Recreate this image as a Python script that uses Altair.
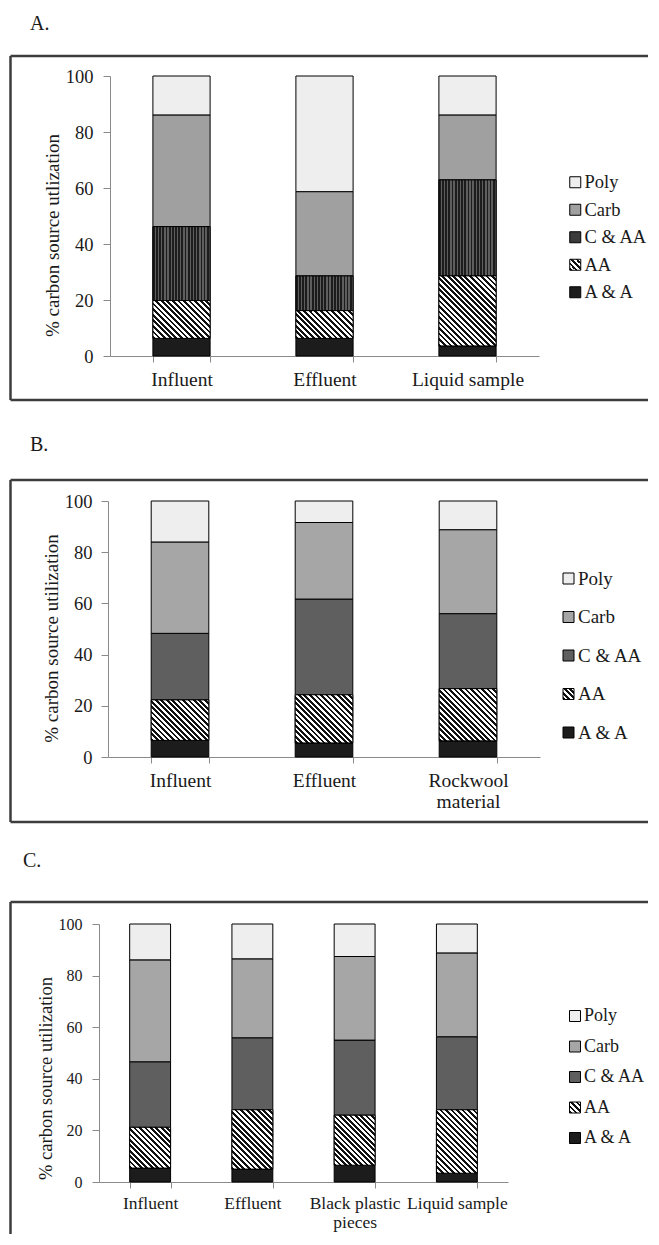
import altair as alt
import pandas as pd

FONT = "Liberation Serif"
TXT = "#1a1a1a"
GRAY = "#8a8a8a"
FRAME = "#3d3d3d"

SERIES = ["A & A", "AA", "C & AA", "Carb", "Poly"]          # stacking order, bottom -> top
LEGEND_ORDER = ["Poly", "Carb", "C & AA", "AA", "A & A"]
Y_TICKS = [0, 20, 40, 60, 80, 100]

# Panel A (% of carbon source utilization per guild)
A_SAMPLES = ["Influent", "Effluent", "Liquid sample"]
A_AAA = [6.3, 6.3, 3.6]
A_AA = [13.5, 9.9, 25.0]
A_CAA = [26.4, 12.4, 34.3]
A_CARB = [39.9, 30.1, 23.2]
A_POLY = [13.9, 41.3, 13.9]

# Panel B
B_SAMPLES = ["Influent", "Effluent", "Rockwool\nmaterial"]
B_AAA = [6.5, 5.5, 6.3]
B_AA = [15.8, 18.8, 20.4]
B_CAA = [26.0, 37.4, 29.3]
B_CARB = [35.7, 29.9, 32.8]
B_POLY = [16.0, 8.4, 11.2]

# Panel C
C_SAMPLES = ["Influent", "Effluent", "Black plastic\npieces", "Liquid sample"]
C_AAA = [5.4, 5.0, 6.5, 3.4]
C_AA = [15.8, 23.0, 19.4, 24.6]
C_CAA = [25.4, 27.9, 29.1, 28.3]
C_CARB = [39.5, 30.6, 32.4, 32.5]
C_POLY = [13.9, 13.5, 12.6, 11.2]


def stripe_stops(n, frac, c1, c2):
    stops = []
    for i in range(n):
        a, b, c = i / n, (i + frac) / n, (i + 1) / n
        stops += [(a, c1), (b, c1), (b, c2), (c, c2)]
    return stops


def hatch_geom(w, h):
    r = h / w
    k = (1 + r) / (1 + r * r)
    return dict(x1=0, y1=1, x2=round(k, 5), y2=round(1 - r * k, 5))


def to_gradient(stops, geom):
    return alt.LinearGradient(
        gradient="linear",
        stops=[alt.GradientStop(color=c, offset=round(o, 5)) for o, c in stops],
        **geom,
    )


def gradient_expr(stops, geom):
    s = ", ".join("{offset: %.5f, color: '%s'}" % (o, c) for o, c in stops)
    return "{gradient: 'linear', x1: %g, y1: %g, x2: %g, y2: %g, stops: [%s]}" % (
        geom["x1"], geom["y1"], geom["x2"], geom["y2"], s)


dummy = pd.DataFrame({"k": [0]})


def hrule(y, x1, x2, color=FRAME, sw=2.5):
    return alt.Chart(dummy).mark_rule(color=color, strokeWidth=sw).encode(
        x=alt.value(x1), x2=alt.value(x2), y=alt.value(y))


def vrule(x, y1, y2, color=FRAME, sw=2.5):
    return alt.Chart(dummy).mark_rule(color=color, strokeWidth=sw).encode(
        x=alt.value(x), y=alt.value(y1), y2=alt.value(y2))


X0 = 99  # page x of every plot origin


def build_panel(cfg):
    samples = cfg["samples"]
    vals = cfg["values"]
    rows = []
    for i, s in enumerate(samples):
        base = 0.0
        for ser in SERIES:
            v = vals[ser][i]
            rows.append(dict(sample=s, series=ser, y0=round(base, 3), y1=round(base + v, 3)))
            base += v
    df = pd.DataFrame(rows)

    W, H, Y0 = cfg["width"], cfg["height"], cfg["top"]
    r0, r1 = cfg["range"]
    step = (r1 - r0) / len(samples)
    bw = 0.4 * step

    x = alt.X(
        "sample:N",
        scale=alt.Scale(domain=samples, range=[r0, r1], paddingInner=0.6, paddingOuter=0.3),
        axis=alt.Axis(
            title=None, labelAngle=0, labelFont=FONT, labelFontSize=cfg["xfs"],
            labelColor=TXT, labelPadding=cfg["xpad"], tickSize=6, tickColor=GRAY,
            domainColor=GRAY, tickBand="extent", labelLineHeight=cfg["xlh"],
            labelExpr="split(datum.label, '\\n')",
        ),
    )
    y = alt.Y(
        "y0:Q",
        scale=alt.Scale(domain=[0, 100], nice=False),
        axis=alt.Axis(
            values=Y_TICKS, title=cfg["ytitle"], grid=False, offset=cfg["yoff"],
            labelFont=FONT, labelFontSize=cfg["yfs"], labelColor=TXT,
            labelPadding=cfg["ypad"], tickSize=7, tickColor=GRAY, domainColor=GRAY,
            titleFont=FONT, titleFontSize=cfg["tfs"], titleFontWeight="normal",
            titleColor=TXT, titlePadding=3, titleY=cfg["titleY"],
        ),
    )
    y2 = alt.Y2("y1:Q")

    leg_stops = stripe_stops(4, 0.5, "#111111", "#ffffff")
    leg_grad = alt.ExprRef(expr=gradient_expr(leg_stops, hatch_geom(11, 11)))
    colors = [cfg["c_poly"], cfg["c_carb"], cfg["c_caa"], leg_grad, cfg["c_aaa"]]

    base = alt.Chart(df).mark_bar(stroke="black", strokeWidth=1).encode(
        x=x, y=y, y2=y2,
        color=alt.Color(
            "series:N",
            scale=alt.Scale(domain=LEGEND_ORDER, range=colors),
            legend=alt.Legend(
                title=None, orient="none", legendX=cfg["legX"], legendY=cfg["legY"],
                symbolType="square", symbolSize=121, symbolStrokeColor="black",
                symbolStrokeWidth=1, symbolOpacity=1, labelFont=FONT,
                labelFontSize=cfg["lfs"], labelColor=TXT, rowPadding=cfg["rowpad"],
                labelOffset=0, padding=0,
            ),
        ),
    )
    layers = [base]

    # vertical stripes for C & AA (panel A)
    if cfg.get("caa_stripes"):
        n = max(2, round(bw / 3.2))
        g = to_gradient(stripe_stops(n, 0.55, "#1c1c1c", "#5e5e5e"),
                        dict(x1=0, y1=0, x2=1, y2=0))
        layers.append(
            alt.Chart(df)
            .transform_filter(alt.FieldEqualPredicate(field="series", equal="C & AA"))
            .mark_bar(fill=g, stroke="black", strokeWidth=1)
            .encode(x=x, y=y, y2=y2)
        )

    # diagonal hatching for AA, one gradient per bar (matches each bar's shape)
    for i, s in enumerate(samples):
        h = vals["AA"][i] * H / 100.0
        n = max(2, round((bw + h) / 5.5))
        g = to_gradient(stripe_stops(n, 0.5, "#111111", "#ffffff"), hatch_geom(bw, h))
        layers.append(
            alt.Chart(df)
            .transform_filter(alt.FieldEqualPredicate(field="sample", equal=s))
            .transform_filter(alt.FieldEqualPredicate(field="series", equal="AA"))
            .mark_bar(fill=g, stroke="black", strokeWidth=1)
            .encode(x=x, y=y, y2=y2)
        )

    # frame around the panel
    ft, fb = cfg["frame_top"] - Y0, cfg["frame_bottom"] - Y0
    left, right = 10.5 - X0, 648 - X0
    layers.append(hrule(ft, left, right))
    if cfg.get("frame_bottom_line", True):
        layers.append(hrule(fb, left, right))
    layers.append(vrule(left, ft, fb))

    # invisible spacer fixing the panel's extent in the column
    ct, cb = cfg["cell"]
    layers.append(vrule(8.5 - X0, ct - Y0 + 0.5, cb - Y0 - 0.5, color="white", sw=1))

    # panel letter
    lx, ly = cfg["letter_pos"]
    layers.append(
        alt.Chart(dummy).mark_text(
            text=cfg["letter"], font=FONT, fontSize=20, align="left",
            baseline="top", color=TXT,
        ).encode(x=alt.value(lx - X0), y=alt.value(ly - Y0))
    )

    return alt.layer(*layers).properties(width=W, height=H)


panel_a = build_panel(dict(
    samples=A_SAMPLES,
    values={"A & A": A_AAA, "AA": A_AA, "C & AA": A_CAA, "Carb": A_CARB, "Poly": A_POLY},
    width=440, height=280, top=76, range=(11, 440), yoff=-11,
    xfs=19.5, xpad=8, xlh=21, yfs=18.5, ypad=10, tfs=19, titleY=159,
    ytitle="% carbon source utlization",
    c_poly="#eeeeee", c_carb="#a0a0a0", c_caa="#3a3a3a", c_aaa="#1c1c1c",
    caa_stripes=True,
    legX=566 - X0, legY=97, lfs=18.5, rowpad=8.5,
    frame_top=56, frame_bottom=400, cell=(8, 420),
    letter="A.", letter_pos=(30, 14),
))

panel_b = build_panel(dict(
    samples=B_SAMPLES,
    values={"A & A": B_AAA, "AA": B_AA, "C & AA": B_CAA, "Carb": B_CARB, "Poly": B_POLY},
    width=441, height=256, top=501, range=(9, 441), yoff=-9,
    xfs=19.5, xpad=8, xlh=21, yfs=18.5, ypad=9, tfs=19, titleY=137,
    ytitle="% carbon source utilization",
    c_poly="#eeeeee", c_carb="#a6a6a6", c_caa="#5f5f5f", c_aaa="#1c1c1c",
    legX=559 - X0, legY=68, lfs=19, rowpad=18.5,
    frame_top=480, frame_bottom=822, cell=(420, 845),
    letter="B.", letter_pos=(30, 434.5),
))

panel_c = build_panel(dict(
    samples=C_SAMPLES,
    values={"A & A": C_AAA, "AA": C_AA, "C & AA": C_CAA, "Carb": C_CARB, "Poly": C_POLY},
    width=409, height=258, top=924, range=(0, 409), yoff=0,
    xfs=17.5, xpad=6, xlh=19.5, yfs=16, ypad=10, tfs=18.5, titleY=154,
    ytitle="% carbon source utilization",
    c_poly="#eeeeee", c_carb="#a6a6a6", c_caa="#5f5f5f", c_aaa="#1c1c1c",
    legX=566 - X0, legY=83, lfs=18, rowpad=12.5,
    frame_top=902, frame_bottom=1234, frame_bottom_line=False, cell=(845, 1236),
    letter="C.", letter_pos=(23, 851),
))

chart = (
    alt.vconcat(panel_a, panel_b, panel_c, spacing=0)
    .resolve_scale(color="independent", x="independent", y="independent")
    .resolve_legend(color="independent")
    .configure_view(strokeWidth=0)
    .properties(padding=0)
)

chart.save("out.html", embed_options={"renderer": "svg", "actions": False})
